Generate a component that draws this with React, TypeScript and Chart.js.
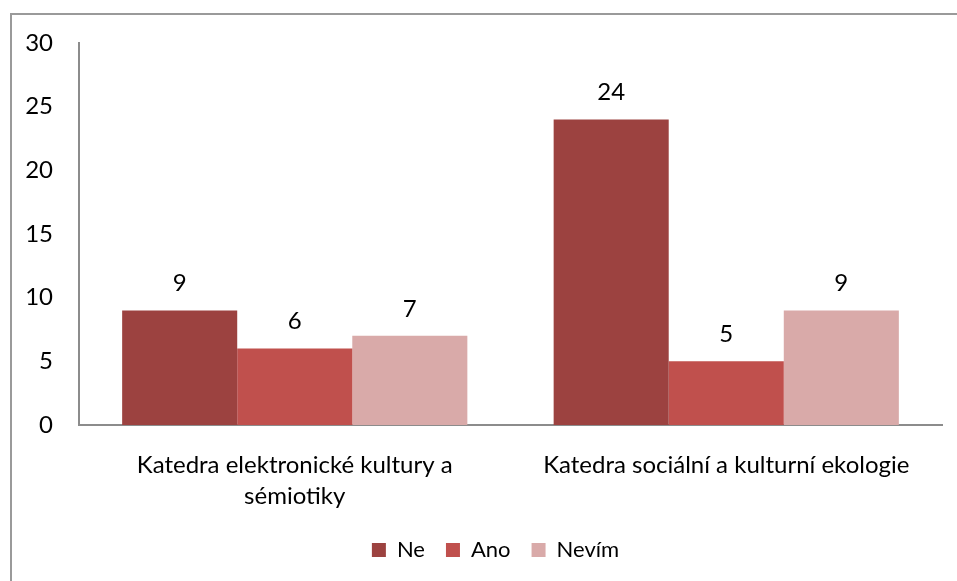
import React, { useEffect, useRef } from "react";
import { Chart, registerables } from "chart.js";

Chart.register(...registerables);

const categories: (string | string[])[] = [
  ["Katedra elektronické kultury a", "sémiotiky"],
  "Katedra sociální a kulturní ekologie",
];
const seriesNames = ["Ne", "Ano", "Nevím"];
const neValues = [9, 24];
const anoValues = [6, 5];
const nevimValues = [7, 9];
const seriesColors = ["#9c4240", "#c0504d", "#d9aaa9"];
const yTicks = [0, 5, 10, 15, 20, 25, 30];

const FONT = "Lato, 'Liberation Sans', sans-serif";
const FONT_SIZE = 24;
const LEGEND_FONT_SIZE = 22;

const dataLabels = {
  id: "dataLabels",
  afterDatasetsDraw(chart: any) {
    const ctx = chart.ctx;
    ctx.save();
    ctx.font = `${FONT_SIZE}px ${FONT}`;
    ctx.fillStyle = "#000";
    ctx.textAlign = "center";
    ctx.textBaseline = "middle";
    chart.data.datasets.forEach((ds: any, i: number) => {
      const meta = chart.getDatasetMeta(i);
      meta.data.forEach((el: any, j: number) => {
        ctx.fillText(String(ds.data[j]), el.x, el.y - 27);
      });
    });
    ctx.restore();
  },
};

const legendShift = {
  id: "legendShift",
  afterLayout(chart: any) {
    if (chart.legend) {
      chart.legend.left = 49;
    }
  },
};

export default function App() {
  const ref = useRef<HTMLCanvasElement | null>(null);
  useEffect(() => {
    if (!ref.current) return;
    const values = [neValues, anoValues, nevimValues];
    const chart = new Chart(ref.current, {
      type: "bar",
      data: {
        labels: categories,
        datasets: seriesNames.map((name, i) => ({
          label: name,
          data: values[i],
          backgroundColor: seriesColors[i],
          borderWidth: 0,
          categoryPercentage: 0.8,
          barPercentage: 1.0,
        })),
      },
      options: {
        responsive: false,
        animation: false,
        layout: { padding: { top: 43, right: 15, bottom: 10, left: 0 } },
        plugins: {
          tooltip: { enabled: false },
          legend: {
            position: "bottom",
            labels: {
              boxWidth: 14,
              boxHeight: 14,
              padding: 21,
              color: "#000",
              font: { family: FONT, size: LEGEND_FONT_SIZE },
            },
          },
        },
        scales: {
          x: {
            grid: { display: false, drawTicks: false },
            border: { display: true, color: "#8c8c8c", width: 2 },
            ticks: {
              color: "#000",
              padding: 25,
              maxRotation: 0,
              autoSkip: false,
              font: { family: FONT, size: FONT_SIZE, lineHeight: "31px" },
            },
            afterFit: (scale: any) => {
              scale.height = 93;
            },
          },
          y: {
            min: 0,
            max: 30,
            grid: { display: false, drawTicks: false },
            border: { display: true, color: "#8c8c8c", width: 2 },
            afterBuildTicks: (scale: any) => {
              scale.ticks = yTicks.map((v) => ({ value: v }));
            },
            ticks: {
              color: "#000",
              padding: 26,
              font: { family: FONT, size: FONT_SIZE },
            },
            afterFit: (scale: any) => {
              scale.width = 79;
            },
          },
        },
      },
      plugins: [dataLabels, legendShift],
    });
    return () => chart.destroy();
  }, []);

  return (
    <div
      style={{
        position: "fixed",
        left: 0,
        top: 0,
        width: 957,
        height: 581,
        overflow: "hidden",
        background: "#fff",
      }}
    >
      <div
        style={{
          position: "absolute",
          left: 10,
          top: 13,
          width: 1200,
          height: 1200,
          borderTop: "2px solid #9a9a9a",
          borderLeft: "2px solid #9a9a9a",
        }}
      />
      <canvas
        ref={ref}
        width={957}
        height={581}
        style={{ position: "absolute", left: 0, top: 0, width: 957, height: 581 }}
      />
    </div>
  );
}
